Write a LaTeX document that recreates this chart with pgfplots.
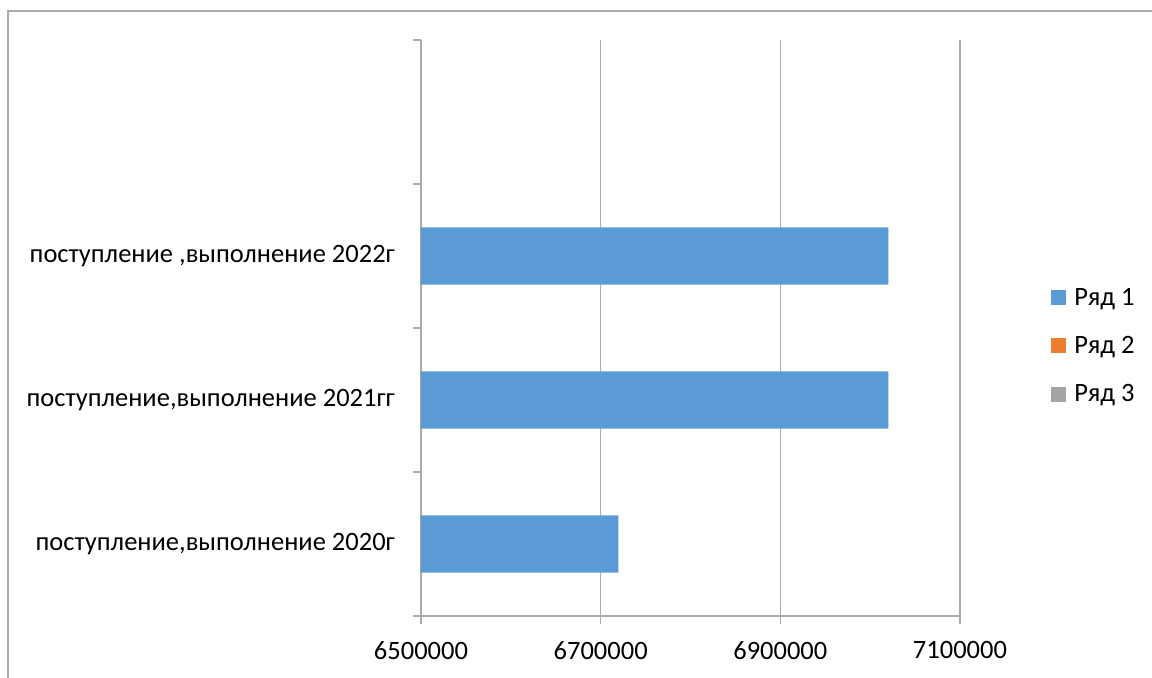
\documentclass[border=0pt]{standalone}
\usepackage{fontspec}
\setmainfont{Carlito}
\usepackage{pgfplots}
\pgfplotsset{compat=1.18}

\definecolor{ser1}{HTML}{5B9BD5}
\definecolor{ser2}{HTML}{ED7D31}
\definecolor{ser3}{HTML}{A5A5A5}
\definecolor{linegray}{HTML}{ABABAB}

\begin{document}
\fontsize{13.25}{16}\selectfont
\begin{tikzpicture}
\useasboundingbox (0,0) rectangle (576pt,339pt);
% outer frame (only left and top edges are visible)
\draw[linegray, line width=0.8pt] (4pt,0) -- (4pt,333.5pt) -- (576pt,333.5pt);

\begin{axis}[
    at={(210.5pt,31pt)}, anchor=south west,
    scale only axis,
    width=269.5pt, height=288pt,
    xbar,
    bar width=28.7pt,
    xmin=6500000, xmax=7100000,
    xtick={6500000,6700000,6900000,7100000},
    scaled x ticks=false,
    xticklabel style={/pgf/number format/fixed, /pgf/number format/1000 sep={}},
    /pgf/number format/assume math mode=true,
    ymin=-0.5, ymax=3.5,
    ytick={0,1,2},
    yticklabels={{поступление,выполнение 2020г},
                 {поступление,выполнение 2021гг},
                 {поступление ,выполнение 2022г}},
    minor ytick={-0.5,0.5,1.5,2.5,3.5},
    major tick length=0pt,
    minor tick length=4pt,
    tick align=outside,
    extra x ticks={6500000,6700000,6900000,7100000},
    extra x tick labels={},
    extra x tick style={major tick length=4pt, grid=none},
    xmajorgrids,
    grid style={linegray, line width=0.8pt},
    axis x line*=bottom,
    axis y line*=left,
    axis line style={linegray, line width=0.8pt, -},
    every tick/.style={linegray, line width=0.8pt},
    yticklabel style={xshift=-8.5pt},
    xticklabel style={yshift=-8pt},
    legend image code/.code={\fill[#1] (0pt,-3.05pt) rectangle (7.5pt,4.45pt);},
    legend style={at={(rel axis cs:1.1688,0.467)}, anchor=west, draw=none,
        inner sep=0pt, row sep=12.7pt,
        nodes={inner sep=0pt, text height=9pt, text depth=2.5pt},
        /tikz/every odd column/.append style={column sep=4pt}},
    legend cell align=left,
]
\addplot[fill=ser1, draw=none, bar shift=0pt, forget plot] coordinates {
    (6719600,0) (7020400,1) (7020400,2)
};
\addlegendimage{fill=ser1, draw=none}
\addlegendentry{Ряд 1}
\addlegendimage{fill=ser2, draw=none}
\addlegendentry{Ряд 2}
\addlegendimage{fill=ser3, draw=none}
\addlegendentry{Ряд 3}
\end{axis}
\end{tikzpicture}
\end{document}
